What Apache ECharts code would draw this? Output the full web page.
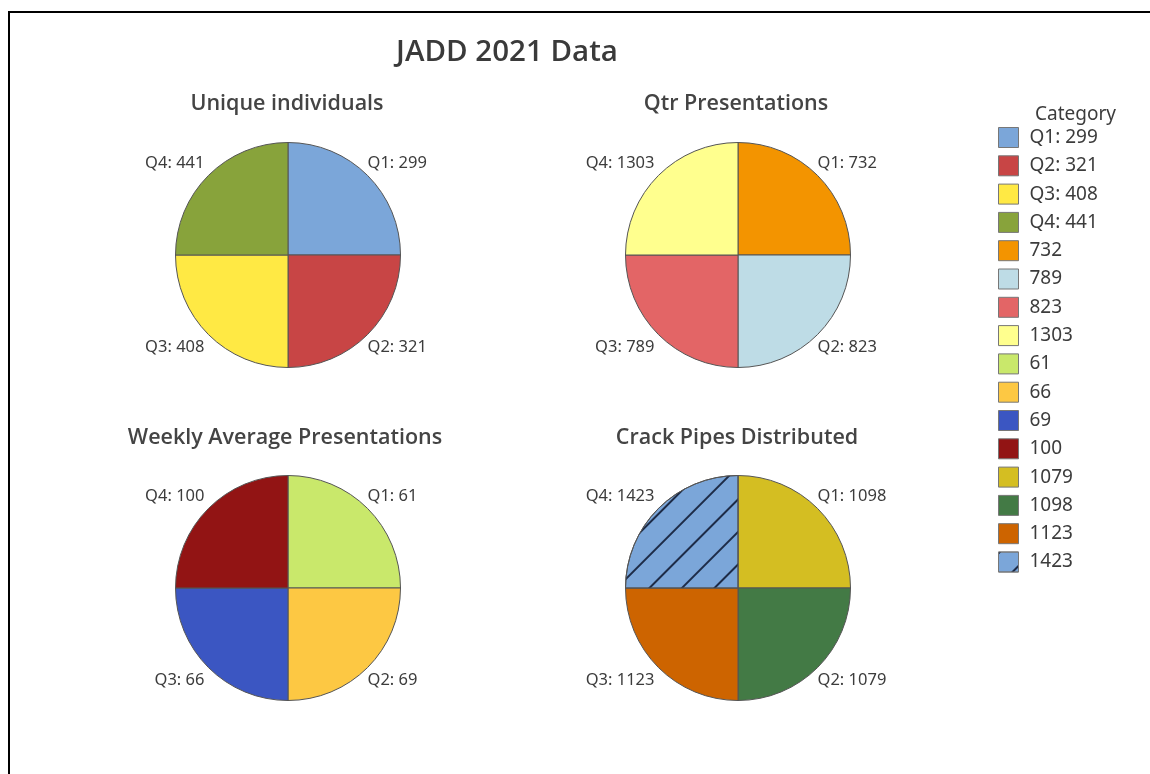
<!DOCTYPE html>
<html>
<head>
<meta charset="utf-8">
<title>JADD 2021 Data</title>
<script src="https://cdn.jsdelivr.net/npm/echarts@6/dist/echarts.min.js"></script>
<style>
  html, body { margin: 0; padding: 0; background: #fff; }
  #chart { width: 1150px; height: 774px; }
</style>
</head>
<body>
<div id="chart"></div>
<script>
// Each pie slice is one category, counted once.
const sliceCounts = [1, 1, 1, 1];

// Category names (legend entries), clockwise from 12 o'clock
const uniqueNames  = ['Q1: 299', 'Q2: 321', 'Q3: 408', 'Q4: 441'];
const qtrNames     = ['732', '789', '823', '1303'];
const weeklyNames  = ['61', '66', '69', '100'];
const crackNames   = ['1079', '1098', '1123', '1423'];

// Slice labels drawn next to each pie
const uniqueLabels = ['Q1: 299', 'Q2: 321', 'Q3: 408', 'Q4: 441'];
const qtrLabels    = ['Q1: 732', 'Q2: 823', 'Q3: 789', 'Q4: 1303'];
const weeklyLabels = ['Q1: 61', 'Q2: 69', 'Q3: 66', 'Q4: 100'];
const crackLabels  = ['Q1: 1098', 'Q2: 1079', 'Q3: 1123', 'Q4: 1423'];

const pieTitles = ['Unique individuals', 'Qtr Presentations', 'Weekly Average Presentations', 'Crack Pipes Distributed'];

const uniqueColors = ['#7ba6d9', '#c84545', '#ffe944', '#88a33b'];
const qtrColors    = ['#f39400', '#bedce6', '#e36566', '#ffff8e'];
const weeklyColors = ['#c9e86b', '#fdc843', '#3b56c2', '#921414'];
const crackColors  = ['#d4be22', '#437a45', '#cd6400', '#7ba6d9'];

const FONT = 'Noto Sans';
const HEAD_FONT = 'Open Sans';
const TEXT = '#3c3c3c';

// diagonal hatching for the last slice of the crack-pipe pie
const hatch = {
  symbol: 'rect',
  symbolSize: 1,
  color: '#1d2b47',
  dashArrayX: [1, 0],
  dashArrayY: [2, 21],
  rotation: -Math.PI / 4
};

const pies = [
  { names: uniqueNames, labels: uniqueLabels, colors: uniqueColors, center: [288, 255] },
  { names: qtrNames,    labels: qtrLabels,    colors: qtrColors,    center: [738, 255] },
  { names: weeklyNames, labels: weeklyLabels, colors: weeklyColors, center: [288, 588] },
  { names: crackNames,  labels: crackLabels,  colors: crackColors,  center: [738, 588], hatchLast: true }
];

const series = pies.map((p, si) => ({
  type: 'pie',
  name: pieTitles[si],
  center: p.center,
  radius: 112.5,
  startAngle: 90,
  clockwise: true,
  animation: false,
  silent: true,
  avoidLabelOverlap: false,
  itemStyle: { borderColor: '#555', borderWidth: 1 },
  label: {
    show: true,
    position: 'outside',
    distanceToLabelLine: 0,
    fontFamily: FONT,
    fontSize: 16.5,
    color: TEXT,
    formatter: (prm) => p.labels[prm.dataIndex]
  },
  labelLine: { show: false, length: 0, length2: 0 },
  labelLayout: (prm) => {
    const i = prm.dataIndex;
    return {
      dx: (i >= 2) ? -4 : 0,
      dy: (i === 0 || i === 3) ? -12 : 13
    };
  },
  data: p.names.map((n, i) => {
    const item = { name: n, value: sliceCounts[i], itemStyle: { color: p.colors[i] } };
    if (p.hatchLast && i === p.names.length - 1) item.itemStyle.decal = hatch;
    return item;
  })
}));

const legendNames = [].concat(uniqueNames, qtrNames, weeklyNames, crackNames);

const subTitle = (text, x, y) => ({
  text: text, left: x, top: y, textAlign: 'center',
  textStyle: { fontFamily: HEAD_FONT, fontSize: 21.5, fontWeight: 600, color: '#444' }
});

const chart = echarts.init(document.getElementById('chart'), null, { renderer: 'canvas' });
chart.setOption({
  backgroundColor: '#fff',
  aria: { enabled: false },
  title: [
    { text: 'JADD 2021 Data', left: 502, top: 33, textAlign: 'center',
      textStyle: { fontFamily: HEAD_FONT, fontSize: 29.5, fontWeight: 600, color: '#3a3a3a' } },
    subTitle(pieTitles[0], 282, 88),
    subTitle(pieTitles[1], 731, 88),
    subTitle(pieTitles[2], 280, 422),
    subTitle(pieTitles[3], 732, 422),
    { text: 'Category', left: 1030, top: 100,
      textStyle: { fontFamily: FONT, fontSize: 19, fontWeight: 'normal', color: TEXT } }
  ],
  legend: {
    orient: 'vertical',
    left: 998,
    top: 127,
    padding: 0,
    itemWidth: 20,
    itemHeight: 20,
    itemGap: 7.3,
    icon: 'rect',
    selectedMode: false,
    data: legendNames,
    itemStyle: { borderColor: '#777', borderWidth: 1 },
    textStyle: { fontFamily: FONT, fontSize: 19, lineHeight: 20, color: TEXT, padding: [0, 0, 0, 6] }
  },
  graphic: [
    { type: 'rect', silent: true, z: 100,
      shape: { x: 9, y: 12, width: 1300, height: 900 },
      style: { fill: null, stroke: '#000', lineWidth: 2 } }
  ],
  series: series
});
</script>
</body>
</html>
